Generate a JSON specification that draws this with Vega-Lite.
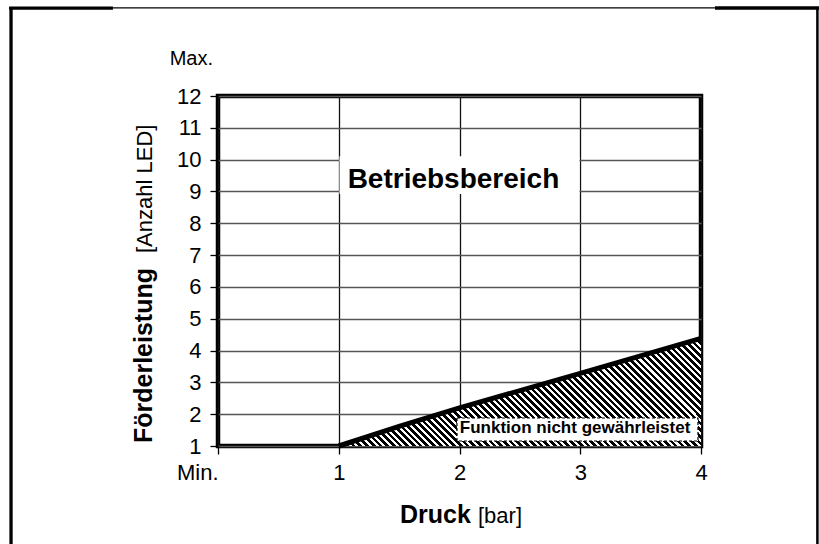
{
  "$schema": "https://vega.github.io/schema/vega-lite/v6.json",
  "width": 483,
  "height": 350,
  "autosize": {"type": "none"},
  "padding": {"left": 218, "top": 96, "right": 118, "bottom": 98},
  "background": "white",
  "config": {
    "font": "Liberation Sans",
    "view": {"stroke": "#000", "strokeWidth": 4.5},
    "axis": {
      "title": null, "domain": false, "grid": true, "gridWidth": 1.3,
      "ticks": true, "tickSize": 8, "tickColor": "#000", "tickWidth": 1.3,
      "labelFontSize": 22, "labelColor": "#000", "labelPadding": 9,
      "labelFlush": false, "labelOverlap": false
    },
    "axisX": {"gridColor": "#111", "labelPadding": 8},
    "axisY": {"gridColor": "#555"}
  },
  "layer": [
    {
      "data": {"values": [
        {"druck": 1, "foerder": 1},
        {"druck": 1.5, "foerder": 1.62},
        {"druck": 2, "foerder": 2.2},
        {"druck": 3, "foerder": 3.28},
        {"druck": 4, "foerder": 4.38}
      ]},
      "mark": {
        "type": "area",
        "fill": {
          "gradient": "linear",
          "x1": 0, "y1": 1, "x2": 1.1918, "y2": 0.6463,
          "stops": [
            {"offset": 0, "color": "#000"}, {"offset": 0.0078, "color": "#000"}, {"offset": 0.0078, "color": "#fff"}, {"offset": 0.0143, "color": "#fff"},
            {"offset": 0.0143, "color": "#000"}, {"offset": 0.0221, "color": "#000"}, {"offset": 0.0221, "color": "#fff"}, {"offset": 0.0286, "color": "#fff"},
            {"offset": 0.0286, "color": "#000"}, {"offset": 0.0364, "color": "#000"}, {"offset": 0.0364, "color": "#fff"}, {"offset": 0.0429, "color": "#fff"},
            {"offset": 0.0429, "color": "#000"}, {"offset": 0.0507, "color": "#000"}, {"offset": 0.0507, "color": "#fff"}, {"offset": 0.0571, "color": "#fff"},
            {"offset": 0.0571, "color": "#000"}, {"offset": 0.065, "color": "#000"}, {"offset": 0.065, "color": "#fff"}, {"offset": 0.0714, "color": "#fff"},
            {"offset": 0.0714, "color": "#000"}, {"offset": 0.0793, "color": "#000"}, {"offset": 0.0793, "color": "#fff"}, {"offset": 0.0857, "color": "#fff"},
            {"offset": 0.0857, "color": "#000"}, {"offset": 0.0936, "color": "#000"}, {"offset": 0.0936, "color": "#fff"}, {"offset": 0.1, "color": "#fff"},
            {"offset": 0.1, "color": "#000"}, {"offset": 0.1078, "color": "#000"}, {"offset": 0.1078, "color": "#fff"}, {"offset": 0.1143, "color": "#fff"},
            {"offset": 0.1143, "color": "#000"}, {"offset": 0.1221, "color": "#000"}, {"offset": 0.1221, "color": "#fff"}, {"offset": 0.1286, "color": "#fff"},
            {"offset": 0.1286, "color": "#000"}, {"offset": 0.1364, "color": "#000"}, {"offset": 0.1364, "color": "#fff"}, {"offset": 0.1429, "color": "#fff"},
            {"offset": 0.1429, "color": "#000"}, {"offset": 0.1507, "color": "#000"}, {"offset": 0.1507, "color": "#fff"}, {"offset": 0.1571, "color": "#fff"},
            {"offset": 0.1571, "color": "#000"}, {"offset": 0.165, "color": "#000"}, {"offset": 0.165, "color": "#fff"}, {"offset": 0.1714, "color": "#fff"},
            {"offset": 0.1714, "color": "#000"}, {"offset": 0.1793, "color": "#000"}, {"offset": 0.1793, "color": "#fff"}, {"offset": 0.1857, "color": "#fff"},
            {"offset": 0.1857, "color": "#000"}, {"offset": 0.1936, "color": "#000"}, {"offset": 0.1936, "color": "#fff"}, {"offset": 0.2, "color": "#fff"},
            {"offset": 0.2, "color": "#000"}, {"offset": 0.2078, "color": "#000"}, {"offset": 0.2078, "color": "#fff"}, {"offset": 0.2143, "color": "#fff"},
            {"offset": 0.2143, "color": "#000"}, {"offset": 0.2221, "color": "#000"}, {"offset": 0.2221, "color": "#fff"}, {"offset": 0.2286, "color": "#fff"},
            {"offset": 0.2286, "color": "#000"}, {"offset": 0.2364, "color": "#000"}, {"offset": 0.2364, "color": "#fff"}, {"offset": 0.2429, "color": "#fff"},
            {"offset": 0.2429, "color": "#000"}, {"offset": 0.2507, "color": "#000"}, {"offset": 0.2507, "color": "#fff"}, {"offset": 0.2571, "color": "#fff"},
            {"offset": 0.2571, "color": "#000"}, {"offset": 0.265, "color": "#000"}, {"offset": 0.265, "color": "#fff"}, {"offset": 0.2714, "color": "#fff"},
            {"offset": 0.2714, "color": "#000"}, {"offset": 0.2793, "color": "#000"}, {"offset": 0.2793, "color": "#fff"}, {"offset": 0.2857, "color": "#fff"},
            {"offset": 0.2857, "color": "#000"}, {"offset": 0.2936, "color": "#000"}, {"offset": 0.2936, "color": "#fff"}, {"offset": 0.3, "color": "#fff"},
            {"offset": 0.3, "color": "#000"}, {"offset": 0.3078, "color": "#000"}, {"offset": 0.3078, "color": "#fff"}, {"offset": 0.3143, "color": "#fff"},
            {"offset": 0.3143, "color": "#000"}, {"offset": 0.3221, "color": "#000"}, {"offset": 0.3221, "color": "#fff"}, {"offset": 0.3286, "color": "#fff"},
            {"offset": 0.3286, "color": "#000"}, {"offset": 0.3364, "color": "#000"}, {"offset": 0.3364, "color": "#fff"}, {"offset": 0.3429, "color": "#fff"},
            {"offset": 0.3429, "color": "#000"}, {"offset": 0.3507, "color": "#000"}, {"offset": 0.3507, "color": "#fff"}, {"offset": 0.3571, "color": "#fff"},
            {"offset": 0.3571, "color": "#000"}, {"offset": 0.365, "color": "#000"}, {"offset": 0.365, "color": "#fff"}, {"offset": 0.3714, "color": "#fff"},
            {"offset": 0.3714, "color": "#000"}, {"offset": 0.3793, "color": "#000"}, {"offset": 0.3793, "color": "#fff"}, {"offset": 0.3857, "color": "#fff"},
            {"offset": 0.3857, "color": "#000"}, {"offset": 0.3936, "color": "#000"}, {"offset": 0.3936, "color": "#fff"}, {"offset": 0.4, "color": "#fff"},
            {"offset": 0.4, "color": "#000"}, {"offset": 0.4078, "color": "#000"}, {"offset": 0.4078, "color": "#fff"}, {"offset": 0.4143, "color": "#fff"},
            {"offset": 0.4143, "color": "#000"}, {"offset": 0.4221, "color": "#000"}, {"offset": 0.4221, "color": "#fff"}, {"offset": 0.4286, "color": "#fff"},
            {"offset": 0.4286, "color": "#000"}, {"offset": 0.4364, "color": "#000"}, {"offset": 0.4364, "color": "#fff"}, {"offset": 0.4429, "color": "#fff"},
            {"offset": 0.4429, "color": "#000"}, {"offset": 0.4507, "color": "#000"}, {"offset": 0.4507, "color": "#fff"}, {"offset": 0.4571, "color": "#fff"},
            {"offset": 0.4571, "color": "#000"}, {"offset": 0.465, "color": "#000"}, {"offset": 0.465, "color": "#fff"}, {"offset": 0.4714, "color": "#fff"},
            {"offset": 0.4714, "color": "#000"}, {"offset": 0.4793, "color": "#000"}, {"offset": 0.4793, "color": "#fff"}, {"offset": 0.4857, "color": "#fff"},
            {"offset": 0.4857, "color": "#000"}, {"offset": 0.4936, "color": "#000"}, {"offset": 0.4936, "color": "#fff"}, {"offset": 0.5, "color": "#fff"},
            {"offset": 0.5, "color": "#000"}, {"offset": 0.5078, "color": "#000"}, {"offset": 0.5078, "color": "#fff"}, {"offset": 0.5143, "color": "#fff"},
            {"offset": 0.5143, "color": "#000"}, {"offset": 0.5221, "color": "#000"}, {"offset": 0.5221, "color": "#fff"}, {"offset": 0.5286, "color": "#fff"},
            {"offset": 0.5286, "color": "#000"}, {"offset": 0.5364, "color": "#000"}, {"offset": 0.5364, "color": "#fff"}, {"offset": 0.5429, "color": "#fff"},
            {"offset": 0.5429, "color": "#000"}, {"offset": 0.5507, "color": "#000"}, {"offset": 0.5507, "color": "#fff"}, {"offset": 0.5571, "color": "#fff"},
            {"offset": 0.5571, "color": "#000"}, {"offset": 0.565, "color": "#000"}, {"offset": 0.565, "color": "#fff"}, {"offset": 0.5714, "color": "#fff"},
            {"offset": 0.5714, "color": "#000"}, {"offset": 0.5793, "color": "#000"}, {"offset": 0.5793, "color": "#fff"}, {"offset": 0.5857, "color": "#fff"},
            {"offset": 0.5857, "color": "#000"}, {"offset": 0.5936, "color": "#000"}, {"offset": 0.5936, "color": "#fff"}, {"offset": 0.6, "color": "#fff"},
            {"offset": 0.6, "color": "#000"}, {"offset": 0.6078, "color": "#000"}, {"offset": 0.6078, "color": "#fff"}, {"offset": 0.6143, "color": "#fff"},
            {"offset": 0.6143, "color": "#000"}, {"offset": 0.6221, "color": "#000"}, {"offset": 0.6221, "color": "#fff"}, {"offset": 0.6286, "color": "#fff"},
            {"offset": 0.6286, "color": "#000"}, {"offset": 0.6364, "color": "#000"}, {"offset": 0.6364, "color": "#fff"}, {"offset": 0.6429, "color": "#fff"},
            {"offset": 0.6429, "color": "#000"}, {"offset": 0.6507, "color": "#000"}, {"offset": 0.6507, "color": "#fff"}, {"offset": 0.6571, "color": "#fff"},
            {"offset": 0.6571, "color": "#000"}, {"offset": 0.665, "color": "#000"}, {"offset": 0.665, "color": "#fff"}, {"offset": 0.6714, "color": "#fff"},
            {"offset": 0.6714, "color": "#000"}, {"offset": 0.6793, "color": "#000"}, {"offset": 0.6793, "color": "#fff"}, {"offset": 0.6857, "color": "#fff"},
            {"offset": 0.6857, "color": "#000"}, {"offset": 0.6936, "color": "#000"}, {"offset": 0.6936, "color": "#fff"}, {"offset": 0.7, "color": "#fff"},
            {"offset": 0.7, "color": "#000"}, {"offset": 0.7078, "color": "#000"}, {"offset": 0.7078, "color": "#fff"}, {"offset": 0.7143, "color": "#fff"},
            {"offset": 0.7143, "color": "#000"}, {"offset": 0.7221, "color": "#000"}, {"offset": 0.7221, "color": "#fff"}, {"offset": 0.7286, "color": "#fff"},
            {"offset": 0.7286, "color": "#000"}, {"offset": 0.7364, "color": "#000"}, {"offset": 0.7364, "color": "#fff"}, {"offset": 0.7429, "color": "#fff"},
            {"offset": 0.7429, "color": "#000"}, {"offset": 0.7507, "color": "#000"}, {"offset": 0.7507, "color": "#fff"}, {"offset": 0.7571, "color": "#fff"},
            {"offset": 0.7571, "color": "#000"}, {"offset": 0.765, "color": "#000"}, {"offset": 0.765, "color": "#fff"}, {"offset": 0.7714, "color": "#fff"},
            {"offset": 0.7714, "color": "#000"}, {"offset": 0.7793, "color": "#000"}, {"offset": 0.7793, "color": "#fff"}, {"offset": 0.7857, "color": "#fff"},
            {"offset": 0.7857, "color": "#000"}, {"offset": 0.7936, "color": "#000"}, {"offset": 0.7936, "color": "#fff"}, {"offset": 0.8, "color": "#fff"},
            {"offset": 0.8, "color": "#000"}, {"offset": 0.8078, "color": "#000"}, {"offset": 0.8078, "color": "#fff"}, {"offset": 0.8143, "color": "#fff"},
            {"offset": 0.8143, "color": "#000"}, {"offset": 0.8221, "color": "#000"}, {"offset": 0.8221, "color": "#fff"}, {"offset": 0.8286, "color": "#fff"},
            {"offset": 0.8286, "color": "#000"}, {"offset": 0.8364, "color": "#000"}, {"offset": 0.8364, "color": "#fff"}, {"offset": 0.8429, "color": "#fff"},
            {"offset": 0.8429, "color": "#000"}, {"offset": 0.8507, "color": "#000"}, {"offset": 0.8507, "color": "#fff"}, {"offset": 0.8571, "color": "#fff"},
            {"offset": 0.8571, "color": "#000"}, {"offset": 0.865, "color": "#000"}, {"offset": 0.865, "color": "#fff"}, {"offset": 0.8714, "color": "#fff"},
            {"offset": 0.8714, "color": "#000"}, {"offset": 0.8793, "color": "#000"}, {"offset": 0.8793, "color": "#fff"}, {"offset": 0.8857, "color": "#fff"},
            {"offset": 0.8857, "color": "#000"}, {"offset": 0.8936, "color": "#000"}, {"offset": 0.8936, "color": "#fff"}, {"offset": 0.9, "color": "#fff"},
            {"offset": 0.9, "color": "#000"}, {"offset": 0.9078, "color": "#000"}, {"offset": 0.9078, "color": "#fff"}, {"offset": 0.9143, "color": "#fff"},
            {"offset": 0.9143, "color": "#000"}, {"offset": 0.9221, "color": "#000"}, {"offset": 0.9221, "color": "#fff"}, {"offset": 0.9286, "color": "#fff"},
            {"offset": 0.9286, "color": "#000"}, {"offset": 0.9364, "color": "#000"}, {"offset": 0.9364, "color": "#fff"}, {"offset": 0.9429, "color": "#fff"},
            {"offset": 0.9429, "color": "#000"}, {"offset": 0.9507, "color": "#000"}, {"offset": 0.9507, "color": "#fff"}, {"offset": 0.9571, "color": "#fff"},
            {"offset": 0.9571, "color": "#000"}, {"offset": 0.965, "color": "#000"}, {"offset": 0.965, "color": "#fff"}, {"offset": 0.9714, "color": "#fff"},
            {"offset": 0.9714, "color": "#000"}, {"offset": 0.9793, "color": "#000"}, {"offset": 0.9793, "color": "#fff"}, {"offset": 0.9857, "color": "#fff"},
            {"offset": 0.9857, "color": "#000"}, {"offset": 0.9936, "color": "#000"}, {"offset": 0.9936, "color": "#fff"}, {"offset": 1, "color": "#fff"}
          ]
        }
      },
      "encoding": {
        "x": {"field": "druck", "type": "quantitative", "scale": {"domain": [0, 4], "nice": false, "zero": false},
          "axis": {"values": [0, 1, 2, 3, 4], "tickCount": 20, "format": "d", "labelExpr": "datum.value == 0 ? 'Min.\u00a0\u00a0' : datum.label", "labelAlign": {"condition": {"test": "datum.value == 0", "value": "right"}, "value": "center"}}},
        "y": {"field": "foerder", "type": "quantitative", "scale": {"domain": [1, 12], "nice": false, "zero": false},
          "axis": {"values": [1, 2, 3, 4, 5, 6, 7, 8, 9, 10, 11, 12], "tickCount": 20, "format": "d"}},
        "y2": {"datum": 1}
      }
    },
    {
      "data": {"values": [
        {"druck": 1, "foerder": 1},
        {"druck": 1.5, "foerder": 1.62},
        {"druck": 2, "foerder": 2.2},
        {"druck": 3, "foerder": 3.28},
        {"druck": 4, "foerder": 4.38}
      ]},
      "mark": {"type": "line", "color": "#000", "strokeWidth": 5, "strokeCap": "butt"},
      "encoding": {
        "x": {"field": "druck", "type": "quantitative", "scale": {"domain": [0, 4], "nice": false, "zero": false},
          "axis": {"values": [0, 1, 2, 3, 4], "tickCount": 20, "format": "d", "labelExpr": "datum.value == 0 ? 'Min.\u00a0\u00a0' : datum.label", "labelAlign": {"condition": {"test": "datum.value == 0", "value": "right"}, "value": "center"}}},
        "y": {"field": "foerder", "type": "quantitative", "scale": {"domain": [1, 12], "nice": false, "zero": false},
          "axis": {"values": [1, 2, 3, 4, 5, 6, 7, 8, 9, 10, 11, 12], "tickCount": 20, "format": "d"}}
      }
    },
    {
      "data": {"values": [{}]},
      "mark": {"type": "rule", "color": "#000", "strokeWidth": 3.3},
      "encoding": {
        "x": {"datum": -1.714, "type": "quantitative", "scale": {"domain": [0, 4], "nice": false, "zero": false}},
        "y": {"datum": 14.8, "type": "quantitative", "scale": {"domain": [1, 12], "nice": false, "zero": false}},
        "y2": {"datum": -2.3}
      }
    },
    {
      "data": {"values": [{}]},
      "mark": {"type": "rule", "color": "#000", "strokeWidth": 2.5},
      "encoding": {
        "x": {"datum": 4.964, "type": "quantitative", "scale": {"domain": [0, 4], "nice": false, "zero": false}},
        "y": {"datum": 14.8, "type": "quantitative", "scale": {"domain": [1, 12], "nice": false, "zero": false}},
        "y2": {"datum": -2.3}
      }
    },
    {
      "data": {"values": [{}]},
      "mark": {"type": "rule", "color": "#000", "strokeWidth": 3.2},
      "encoding": {
        "x": {"datum": -1.73, "type": "quantitative", "scale": {"domain": [0, 4], "nice": false, "zero": false}},
        "x2": {"datum": -0.87},
        "y": {"datum": 14.76, "type": "quantitative", "scale": {"domain": [1, 12], "nice": false, "zero": false}}
      }
    },
    {
      "data": {"values": [{}]},
      "mark": {"type": "rule", "color": "#000", "strokeWidth": 1.4},
      "encoding": {
        "x": {"datum": -0.87, "type": "quantitative", "scale": {"domain": [0, 4], "nice": false, "zero": false}},
        "x2": {"datum": 4.116},
        "y": {"datum": 14.77, "type": "quantitative", "scale": {"domain": [1, 12], "nice": false, "zero": false}}
      }
    },
    {
      "data": {"values": [{}]},
      "mark": {"type": "rule", "color": "#000", "strokeWidth": 3.5},
      "encoding": {
        "x": {"datum": 4.116, "type": "quantitative", "scale": {"domain": [0, 4], "nice": false, "zero": false}},
        "x2": {"datum": 4.99},
        "y": {"datum": 14.765, "type": "quantitative", "scale": {"domain": [1, 12], "nice": false, "zero": false}}
      }
    },
    {
      "data": {"values": [{}]},
      "mark": {"type": "rect", "fill": "#fff", "stroke": null},
      "encoding": {
        "x": {"datum": 1.006, "type": "quantitative", "scale": {"domain": [0, 4], "nice": false, "zero": false}},
        "x2": {"datum": 2.994},
        "y": {"datum": 8.92, "type": "quantitative", "scale": {"domain": [1, 12], "nice": false, "zero": false}},
        "y2": {"datum": 10.11}
      }
    },
    {
      "data": {"values": [{}]},
      "mark": {"type": "text", "text": "Betriebsbereich", "fontSize": 28, "fontWeight": "bold", "color": "#000", "align": "center", "baseline": "alphabetic"},
      "encoding": {
        "x": {"datum": 1.95, "type": "quantitative", "scale": {"domain": [0, 4], "nice": false, "zero": false}},
        "y": {"datum": 9.108, "type": "quantitative", "scale": {"domain": [1, 12], "nice": false, "zero": false}}
      }
    },
    {
      "data": {"values": [{}]},
      "mark": {"type": "rect", "fill": "#fff", "stroke": "#000", "strokeWidth": 1.2, "strokeDash": [3, 2]},
      "encoding": {
        "x": {"datum": 1.979, "type": "quantitative", "scale": {"domain": [0, 4], "nice": false, "zero": false}},
        "x2": {"datum": 3.975},
        "y": {"datum": 1.157, "type": "quantitative", "scale": {"domain": [1, 12], "nice": false, "zero": false}},
        "y2": {"datum": 1.88}
      }
    },
    {
      "data": {"values": [{}]},
      "mark": {"type": "text", "text": "Funktion nicht gewährleistet", "fontSize": 17, "fontWeight": "bold", "color": "#000", "align": "center", "baseline": "alphabetic"},
      "encoding": {
        "x": {"datum": 2.957, "type": "quantitative", "scale": {"domain": [0, 4], "nice": false, "zero": false}},
        "y": {"datum": 1.399, "type": "quantitative", "scale": {"domain": [1, 12], "nice": false, "zero": false}}
      }
    },
    {
      "data": {"values": [{}]},
      "mark": {"type": "text", "text": "Max.", "fontSize": 20, "color": "#000", "align": "right", "baseline": "alphabetic"},
      "encoding": {
        "x": {"datum": -0.0414, "type": "quantitative", "scale": {"domain": [0, 4], "nice": false, "zero": false}},
        "y": {"datum": 12.97, "type": "quantitative", "scale": {"domain": [1, 12], "nice": false, "zero": false}}
      }
    },
    {
      "data": {"values": [{}]},
      "mark": {"type": "text", "text": "Förderleistung", "fontSize": 25, "fontWeight": "bold", "color": "#000", "align": "left", "baseline": "alphabetic", "angle": 270},
      "encoding": {
        "x": {"datum": -0.5466, "type": "quantitative", "scale": {"domain": [0, 4], "nice": false, "zero": false}},
        "y": {"datum": 1.094, "type": "quantitative", "scale": {"domain": [1, 12], "nice": false, "zero": false}}
      }
    },
    {
      "data": {"values": [{}]},
      "mark": {"type": "text", "text": "[Anzahl LED]", "fontSize": 22, "color": "#000", "align": "left", "baseline": "alphabetic", "angle": 270},
      "encoding": {
        "x": {"datum": -0.5466, "type": "quantitative", "scale": {"domain": [0, 4], "nice": false, "zero": false}},
        "y": {"datum": 7.065, "type": "quantitative", "scale": {"domain": [1, 12], "nice": false, "zero": false}}
      }
    },
    {
      "data": {"values": [{}]},
      "mark": {"type": "text", "text": "Druck", "fontSize": 25, "fontWeight": "bold", "color": "#000", "align": "left", "baseline": "alphabetic"},
      "encoding": {
        "x": {"datum": 1.507, "type": "quantitative", "scale": {"domain": [0, 4], "nice": false, "zero": false}},
        "y": {"datum": -1.41, "type": "quantitative", "scale": {"domain": [1, 12], "nice": false, "zero": false}}
      }
    },
    {
      "data": {"values": [{}]},
      "mark": {"type": "text", "text": "[bar]", "fontSize": 22, "color": "#000", "align": "left", "baseline": "alphabetic"},
      "encoding": {
        "x": {"datum": 2.153, "type": "quantitative", "scale": {"domain": [0, 4], "nice": false, "zero": false}},
        "y": {"datum": -1.41, "type": "quantitative", "scale": {"domain": [1, 12], "nice": false, "zero": false}}
      }
    }
  ]
}
